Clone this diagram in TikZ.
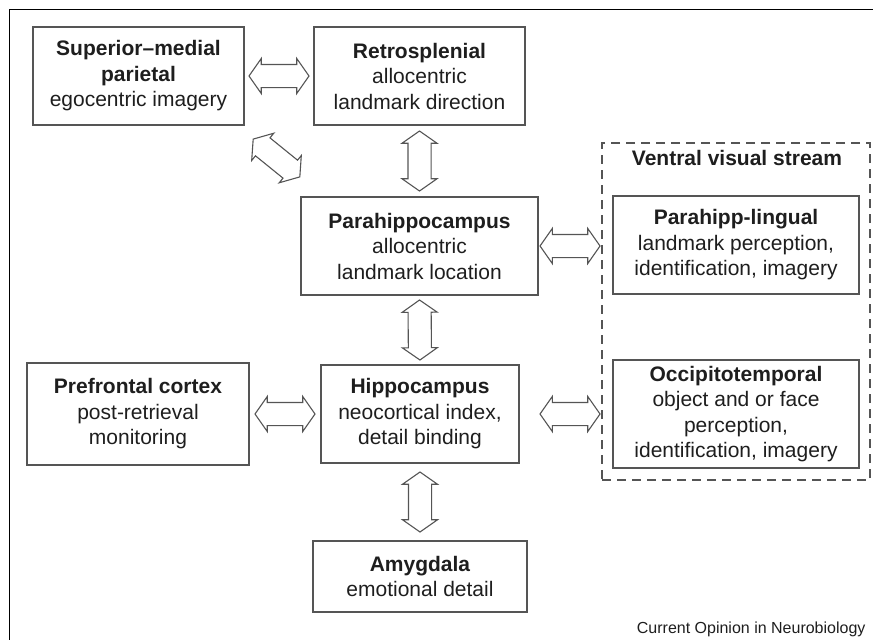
\documentclass[tikz,border=0pt]{standalone}
\usepackage{fontspec}
\setmainfont{Liberation Sans}
\usetikzlibrary{shapes.arrows,calc}
\definecolor{txt}{HTML}{1E1E1E}
\definecolor{edge}{HTML}{555555}
\begin{document}
\begin{tikzpicture}[x=1pt,y=-1pt,
  box/.style={draw=edge, line width=1.3pt, align=center, inner sep=0pt, text=txt,
    font=\fontsize{21}{25.5}\selectfont},
  dbl/.style={draw=edge, fill=white, line width=1.1pt, double arrow, inner xsep=0pt,
    inner ysep=11pt, minimum height=60pt, minimum width=0pt,
    double arrow head extend=6pt, double arrow tip angle=110, anchor=center},
  frame/.style={draw=edge, line width=1.2pt, dash pattern=on 9pt off 6pt}
]
\useasboundingbox (0,0) rectangle (873,640);
\draw[line width=1.8pt, black] (9.5,640) -- (9.5,9.5) -- (873,9.5);

\node[box, minimum width=211pt, minimum height=98pt] (sup) at (138.5,76)
  {\textbf{Superior–medial}\\\textbf{parietal}\\egocentric imagery};
\node[box, minimum width=211pt, minimum height=98pt] (retro) at (419.5,76)
  {\textbf{Retrosplenial}\\allocentric\\landmark direction};
\node[box, minimum width=237pt, minimum height=98pt] (para) at (419.5,246)
  {\textbf{Parahippocampus}\\allocentric\\landmark location};
\node[box, minimum width=198pt, minimum height=98pt] (hippo) at (420,414)
  {\textbf{Hippocampus}\\neocortical index,\\detail binding};
\node[box, minimum width=222pt, minimum height=102pt] (pref) at (138,414)
  {\textbf{Prefrontal cortex}\\post-retrieval\\monitoring};
\node[box, minimum width=214pt, minimum height=71pt] (amyg) at (420,576.5)
  {\textbf{Amygdala}\\emotional detail};

\node[frame, minimum width=268pt, minimum height=337pt, inner sep=0pt] (ventral) at (736,311.5) {};
\node[text=txt, font=\fontsize{21}{25.5}\selectfont\bfseries] (vtitle) at (737,158) {Ventral visual stream};
\node[box, minimum width=246pt, minimum height=98pt] (plin) at (736,245)
  {\textbf{Parahipp-lingual}\\landmark perception,\\identification, imagery};
\node[box, minimum width=246pt, minimum height=108pt] (occ) at (736,414)
  {\textbf{Occipitotemporal}\\object and or face\\perception,\\identification, imagery};

\path (sup.east) -- node[dbl, sloped] (a1) {} (retro.west);
\path (pref.east) -- node[dbl, sloped] (a2) {} (hippo.west);
\path (retro.south) -- node[dbl, sloped] (a3) {} (para.north);
\path (para.south) -- node[dbl, sloped] (a4) {} (hippo.north);
\path (hippo.south) -- node[dbl, sloped] (a5) {} (amyg.north);
\path (para.east) -- node[dbl, sloped] (a6) {} (para.east -| ventral.west);
\path (occ.west -| para.east) -- node[dbl, sloped] (a7) {} (occ.west -| ventral.west);
\node[dbl, rotate=-39] (a8) at ($(sup.south east)!0.5!(para.north west)+(4,-3)$) {};

\node[anchor=base east, text=txt, font=\fontsize{16}{19}\selectfont] (cap) at (869,633)
  {Current Opinion in Neurobiology};
\end{tikzpicture}
\end{document}
